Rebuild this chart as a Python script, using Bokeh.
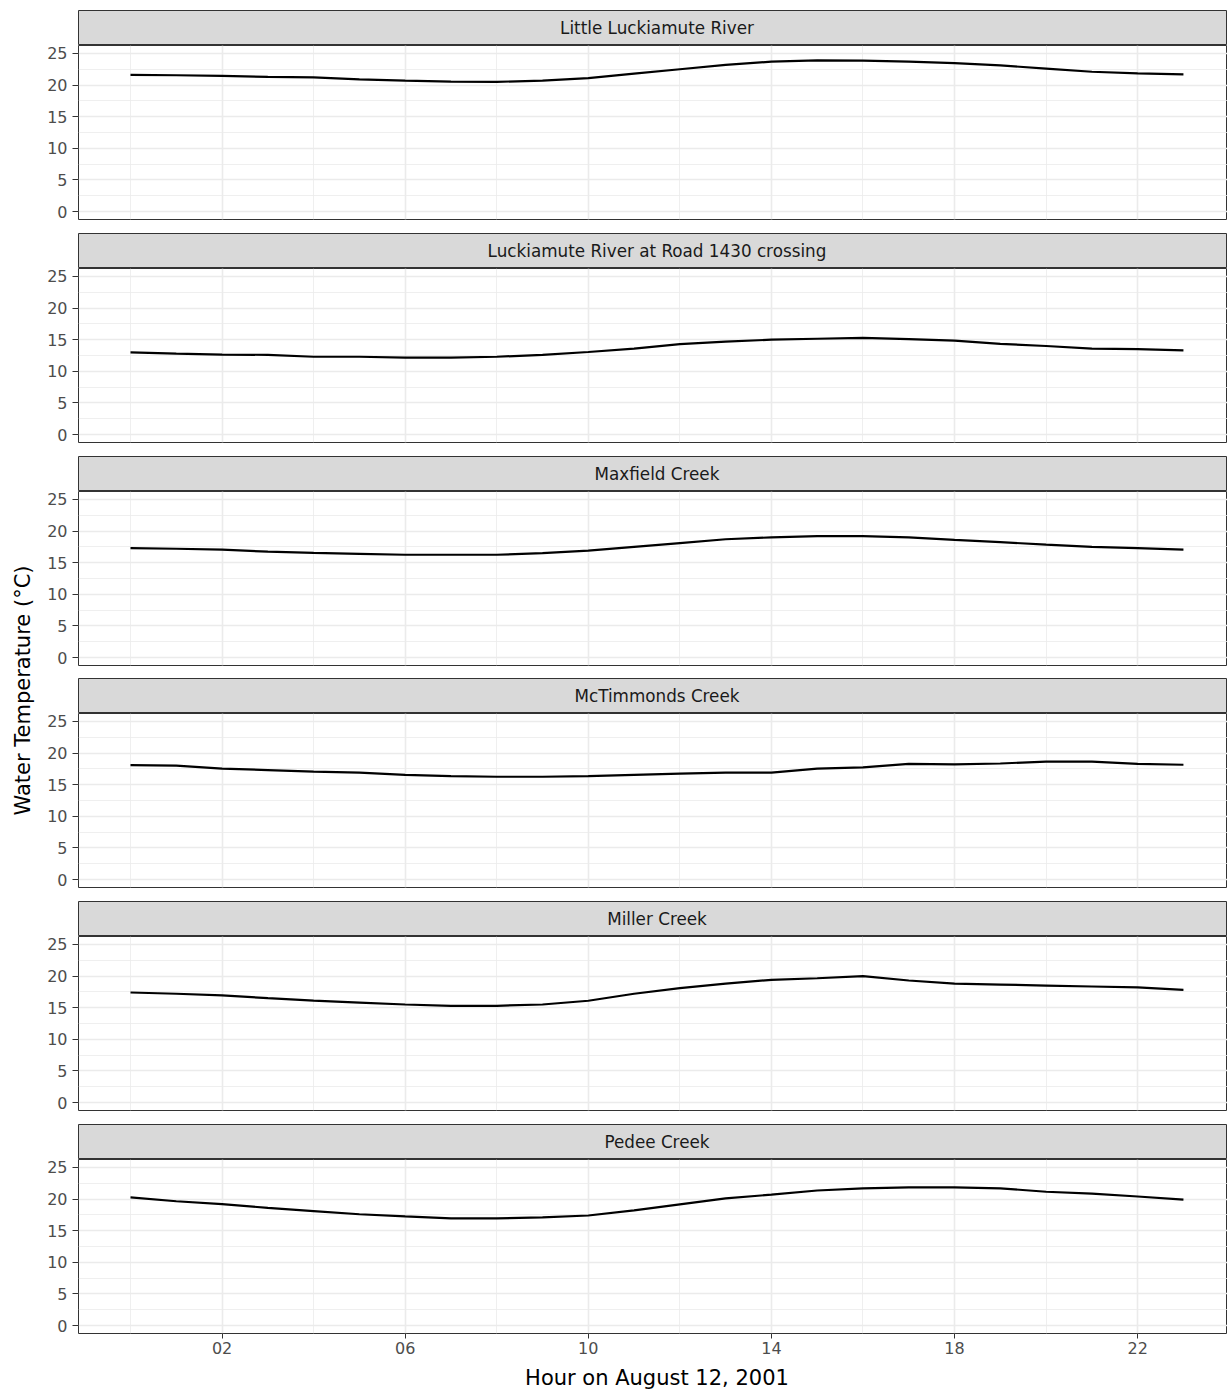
import math
from bokeh.plotting import figure
from bokeh.models import Range1d, FixedTicker
from bokeh.layouts import column, row
from bokeh.embed import file_html
from bokeh.resources import INLINE
from bokeh.core.properties import value

# ---------------- data ----------------
sites = [
    "Little Luckiamute River",
    "Luckiamute River at Road 1430 crossing",
    "Maxfield Creek",
    "McTimmonds Creek",
    "Miller Creek",
    "Pedee Creek",
]
hours = list(range(24))

little_luckiamute = [21.6, 21.55, 21.45, 21.3, 21.2, 20.9, 20.7, 20.55, 20.5, 20.7, 21.1, 21.8,
                     22.5, 23.2, 23.7, 23.9, 23.85, 23.7, 23.45, 23.1, 22.6, 22.1, 21.85, 21.7]
luckiamute_1430 = [13.0, 12.8, 12.65, 12.6, 12.3, 12.3, 12.15, 12.15, 12.3, 12.6, 13.05, 13.6,
                   14.3, 14.7, 15.0, 15.15, 15.3, 15.1, 14.85, 14.35, 14.0, 13.6, 13.5, 13.3]
maxfield = [17.3, 17.2, 17.05, 16.75, 16.55, 16.4, 16.25, 16.25, 16.25, 16.5, 16.9, 17.5,
            18.1, 18.7, 19.0, 19.2, 19.2, 19.0, 18.6, 18.25, 17.85, 17.5, 17.3, 17.05]
mctimmonds = [18.1, 18.0, 17.55, 17.3, 17.05, 16.9, 16.55, 16.35, 16.25, 16.25, 16.35, 16.55,
              16.75, 16.9, 16.9, 17.55, 17.75, 18.3, 18.2, 18.35, 18.65, 18.65, 18.3, 18.15]
miller = [17.4, 17.2, 16.95, 16.5, 16.1, 15.8, 15.5, 15.3, 15.3, 15.5, 16.1, 17.2,
          18.1, 18.8, 19.4, 19.65, 20.0, 19.3, 18.8, 18.65, 18.5, 18.35, 18.2, 17.8]
pedee = [20.25, 19.65, 19.2, 18.6, 18.1, 17.6, 17.25, 16.95, 16.95, 17.1, 17.4, 18.2,
         19.15, 20.1, 20.7, 21.35, 21.7, 21.85, 21.85, 21.7, 21.15, 20.85, 20.4, 19.9]
series = [little_luckiamute, luckiamute_1430, maxfield, mctimmonds, miller, pedee]

y_ticks = [0, 5, 10, 15, 20, 25]
y_minor = [2.5, 7.5, 12.5, 17.5, 22.5]
x_ticks = [2, 6, 10, 14, 18, 22]
x_tick_labels = ["02", "06", "10", "14", "18", "22"]
x_minor = [0, 4, 8, 12, 16, 20]

x_title = "Hour on August 12, 2001"
y_title = "Water Temperature (°C)"

# ---------------- layout / styling ----------------
FONT = "DejaVu Sans"
YT_W = 36          # width of the y-title column
LEFT = 42          # left border of panels (frame starts at 78)
W = 1227 - YT_W
TOP = 10
STRIP_H = 35
FRAME_H = 174
GAPS = [14, 14, 13, 14, 14]
LAST_BOTTOM = 30
TITLE_H = 28
TOTAL = TOP + STRIP_H * 6 + FRAME_H * 6 + sum(GAPS) + LAST_BOTTOM + TITLE_H

PX_PER_HOUR = 45.78
x0 = -52 / PX_PER_HOUR
xr = Range1d(x0, x0 + (W - LEFT) / PX_PER_HOUR)
yr = Range1d(-1.25, 26.25)
x_mid = (hours[0] + hours[-1]) / 2


def make_strip(label, top):
    s = figure(width=W, height=STRIP_H + top, x_range=xr, y_range=Range1d(0, 1),
               x_axis_location=None, y_axis_location=None, toolbar_location=None,
               output_backend="svg", min_border_left=LEFT, min_border_right=0,
               min_border_top=top, min_border_bottom=0,
               background_fill_color="#D9D9D9", border_fill_color="white",
               outline_line_color="#333333", outline_line_width=1)
    s.xgrid.grid_line_color = None
    s.ygrid.grid_line_color = None
    s.text(x=[x_mid], y=[0.5], text=[label], text_align="center", text_baseline="middle",
           text_font=value(FONT), text_font_size="16.8px", text_color="#1A1A1A")
    return s


def make_panel(vals, bottom, last):
    p = figure(width=W, height=FRAME_H + bottom, x_range=xr, y_range=yr,
               x_axis_location="below" if last else None, toolbar_location=None,
               output_backend="svg", min_border_left=LEFT, min_border_right=0,
               min_border_top=0, min_border_bottom=bottom,
               background_fill_color="white", border_fill_color="white",
               outline_line_color="#333333", outline_line_width=1)
    for g, tk, mn in ((p.xgrid, x_ticks, x_minor), (p.ygrid, y_ticks, y_minor)):
        g.ticker = FixedTicker(ticks=tk, minor_ticks=mn)
        g.grid_line_color = "#EBEBEB"
        g.grid_line_width = 1.6
        g.minor_grid_line_color = "#EBEBEB"
        g.minor_grid_line_width = 0.8
    p.yaxis.ticker = FixedTicker(ticks=y_ticks)
    axes = list(p.yaxis) + (list(p.xaxis) if last else [])
    for ax in axes:
        ax.axis_line_color = None
        ax.major_tick_line_color = "#333333"
        ax.major_tick_line_width = 1
        ax.major_tick_in = 0
        ax.minor_tick_line_color = None
        ax.major_label_text_font = FONT
        ax.major_label_text_font_size = "16px"
        ax.major_label_text_color = "#4D4D4D"
    p.yaxis.major_tick_out = 6
    p.yaxis.major_label_standoff = 5
    if last:
        p.xaxis.ticker = FixedTicker(ticks=x_ticks)
        p.xaxis.major_label_overrides = dict(zip(x_ticks, x_tick_labels))
        p.xaxis.major_tick_out = 5
        p.xaxis.major_label_standoff = 3
    p.line(hours, vals, line_color="black", line_width=2.2)
    return p


figs = []
n = len(sites)
for i, (name, vals) in enumerate(zip(sites, series)):
    last = i == n - 1
    figs.append(make_strip(name, TOP if i == 0 else 0))
    figs.append(make_panel(vals, LAST_BOTTOM if last else GAPS[i], last))

# x-axis title
xt = figure(width=W, height=TITLE_H, x_range=xr, y_range=Range1d(0, TITLE_H),
            x_axis_location=None, y_axis_location=None, toolbar_location=None,
            output_backend="svg", min_border_left=LEFT, min_border_right=0,
            min_border_top=0, min_border_bottom=0, outline_line_color=None,
            border_fill_color="white", background_fill_color="white")
xt.xgrid.grid_line_color = None
xt.ygrid.grid_line_color = None
xt.text(x=[x_mid], y=[TITLE_H - 14], text=[x_title], text_align="center", text_baseline="middle",
        text_font=value(FONT), text_font_size="21px", text_color="black")
figs.append(xt)

# y-axis title
yt = figure(width=YT_W, height=TOTAL, x_range=Range1d(0, YT_W), y_range=Range1d(0, TOTAL),
            x_axis_location=None, y_axis_location=None, toolbar_location=None,
            output_backend="svg", min_border=0, outline_line_color=None,
            border_fill_color="white", background_fill_color="white")
yt.xgrid.grid_line_color = None
yt.ygrid.grid_line_color = None
yt.text(x=[22], y=[TOTAL - 690], text=[y_title], angle=math.pi / 2, text_align="center",
        text_baseline="middle", text_font=value(FONT), text_font_size="21px", text_color="black")

layout = row(yt, column(*figs, spacing=0), spacing=0)

open("out.html", "w").write(file_html(layout, INLINE))
